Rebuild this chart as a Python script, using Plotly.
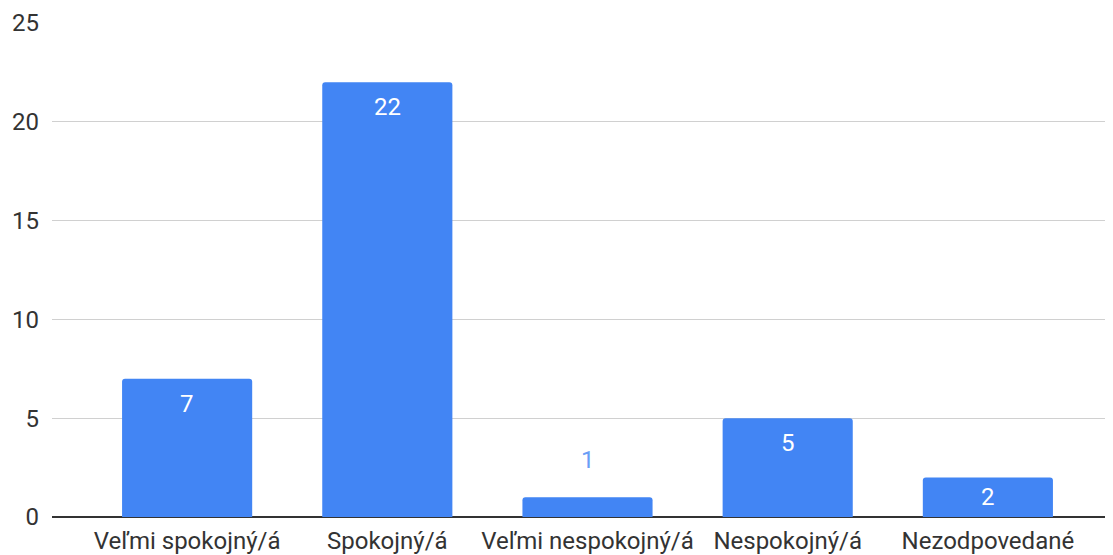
import plotly.graph_objects as go

categories = ["Veľmi spokojný/á", "Spokojný/á", "Veľmi nespokojný/á", "Nespokojný/á", "Nezodpovedané"]
counts = [7, 22, 1, 5, 2]
y_ticks = [0, 5, 10, 15, 20, 25]

BLUE = "#4285F4"
LABEL_BLUE = "#6a9ef6"
FONT = "Roboto, Arial, sans-serif"

# the page body has an 8px margin, so the figure is shifted by that much
W, H = 1105, 547
M = dict(l=44, r=0, t=15, b=38)
y_max = 25
px_per_unit = (H - M["t"] - M["b"]) / y_max

fig = go.Figure(go.Bar(
    x=categories,
    y=counts,
    marker=dict(color=BLUE, cornerradius=3, line=dict(width=0)),
    hoverinfo="x+y",
))

# value labels: inside the top of the bar, above it when the bar is too short
for cat, v in zip(categories, counts):
    h = v * px_per_unit
    if h < 30:
        shift, col = 37, LABEL_BLUE
    else:
        shift, col = -min(25, h / 2), "white"
    fig.add_annotation(x=cat, y=v, text=str(v), showarrow=False, yanchor="middle",
                       yshift=shift, font=dict(family=FONT, size=24, color=col))

fig.update_layout(
    width=W, height=H,
    margin=M,
    paper_bgcolor="white",
    plot_bgcolor="white",
    bargap=0.35,
    showlegend=False,
    font=dict(family=FONT, size=24, color="#444444"),
)
fig.update_xaxes(
    range=[-0.675, 4.625],
    showgrid=False,
    showline=False,
    ticks="",
    ticklabelstandoff=7,
    tickfont=dict(size=24, color="#333333"),
)
fig.update_yaxes(
    range=[0, y_max],
    tickvals=y_ticks,
    showgrid=True,
    gridcolor="#d0d0d0",
    gridwidth=1,
    zeroline=True,
    zerolinecolor="#333333",
    zerolinewidth=1.5,
    showline=False,
    ticks="",
    ticklabelstandoff=12,
    tickfont=dict(size=24, color="#333333"),
)

fig.write_html("out.html")
